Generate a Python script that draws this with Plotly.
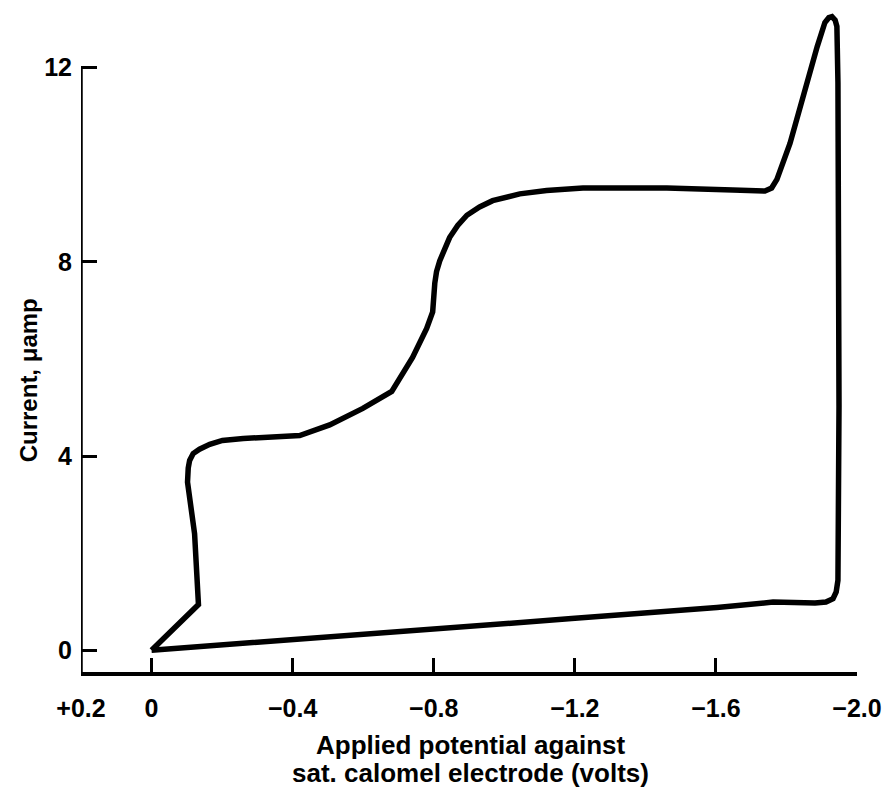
import plotly.graph_objects as go

# Polarogram trace (applied potential in volts vs. SCE, current in µA)
potential = [0.0, -0.067, -0.133, -0.122, -0.102, -0.104, -0.108, -0.118, -0.136,
             -0.165, -0.201, -0.260, -0.343, -0.420, -0.505, -0.599, -0.681, -0.740,
             -0.780, -0.797, -0.803, -0.808, -0.817, -0.830, -0.845, -0.868, -0.894,
             -0.930, -0.967, -1.044, -1.120, -1.223, -1.461, -1.648, -1.739, -1.758,
             -1.773, -1.810, -1.847, -1.887, -1.909, -1.920, -1.929, -1.938, -1.943,
             -1.945, -1.946, -1.949, -1.946, -1.941, -1.932, -1.912, -1.881, -1.762,
             -1.603, -1.191, -0.794, -0.397, 0.0]
current = [0.0, 0.47, 0.94, 2.40, 3.46, 3.75, 3.91, 4.05, 4.14,
           4.24, 4.32, 4.36, 4.38, 4.42, 4.64, 4.98, 5.33, 6.03,
           6.63, 6.97, 7.56, 7.80, 8.02, 8.27, 8.50, 8.75, 8.96,
           9.13, 9.26, 9.40, 9.47, 9.52, 9.52, 9.48, 9.46, 9.52,
           9.70, 10.44, 11.43, 12.43, 12.93, 13.03, 13.05, 12.98, 12.85,
           12.50, 11.69, 5.03, 1.44, 1.20, 1.06, 0.99, 0.97, 0.99,
           0.88, 0.65, 0.43, 0.22, 0.0]

x_tickvals = [0.2, 0.0, -0.4, -0.8, -1.2, -1.6, -2.0]
x_ticktext = ["+0.2", "0", "\u22120.4", "\u22120.8", "\u22121.2", "\u22121.6", "\u22122.0"]
y_tickvals = [0, 4, 8, 12]
y_ticktext = ["0", "4", "8", "12"]

FONT = "Liberation Sans, Arial, Helvetica, sans-serif"
Y_MIN, Y_MAX = -0.45, 13.25

fig = go.Figure()
fig.add_trace(go.Scatter(
    x=potential, y=current, mode="lines",
    line=dict(color="black", width=5.5, shape="linear"),
    hoverinfo="skip", showlegend=False,
))

# y-axis line running from the x-axis up to the 12 tick
fig.add_shape(type="line", xref="x", yref="y", x0=0.2, x1=0.2, y0=Y_MIN, y1=12,
              line=dict(color="black", width=3.5))

tfont = dict(family=FONT, size=25, color="black", weight="bold")

fig.update_xaxes(
    range=[0.2, -2.0], showgrid=False, zeroline=False, automargin=False,
    showline=True, linecolor="black", linewidth=3.5,
    ticks="inside", ticklen=14, tickwidth=3, tickcolor="black",
    tickvals=x_tickvals, ticktext=x_ticktext,
    tickfont=tfont, ticklabelstandoff=11,
)
fig.update_yaxes(
    range=[Y_MIN, Y_MAX], showgrid=False, zeroline=False, showline=False, automargin=False,
    ticks="inside", ticklen=16, tickwidth=3, tickcolor="black",
    tickvals=y_tickvals, ticktext=y_ticktext,
    tickfont=tfont, ticklabelstandoff=8,
)

afont = dict(family=FONT, size=26, color="black", weight="bold")
fig.add_annotation(
    text="Applied potential against",
    xref="paper", yref="paper", x=0.502, y=-0.110, xanchor="center", yanchor="middle",
    showarrow=False, font=afont,
)
fig.add_annotation(
    text="sat. calomel electrode (volts)",
    xref="paper", yref="paper", x=0.502, y=-0.152, xanchor="center", yanchor="middle",
    showarrow=False, font=afont,
)
fig.add_annotation(
    text="Current, \u03bcamp", textangle=-90,
    xref="paper", yref="paper", x=-0.068, y=0.439, xanchor="center", yanchor="middle",
    showarrow=False, font=dict(family=FONT, size=24, color="black", weight="bold"),
)

fig.update_layout(
    width=887, height=789,
    margin=dict(l=81, r=30, t=7, b=117),
    paper_bgcolor="white", plot_bgcolor="white",
)

fig.write_html("out.html", config={"displayModeBar": False},
               post_script="document.body.style.margin='0';document.body.style.overflow='hidden';")
